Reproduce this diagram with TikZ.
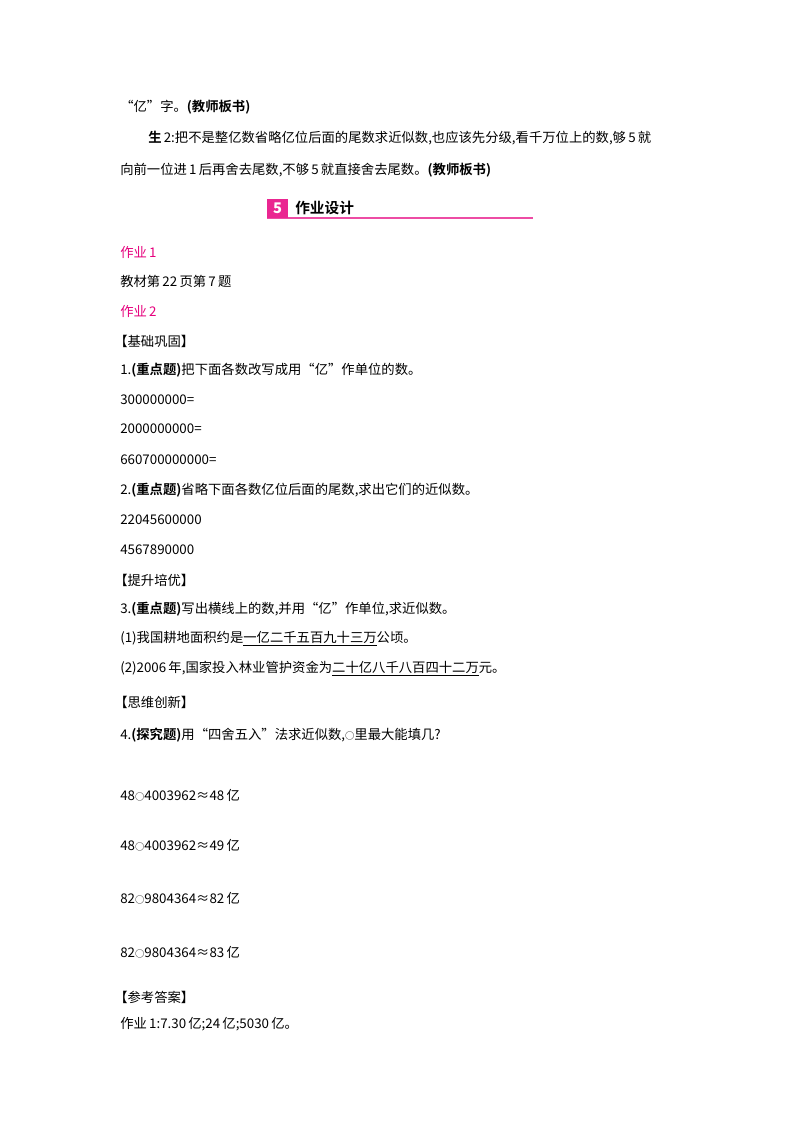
\documentclass[tikz,border=0pt]{standalone}
\usepackage{fontspec}
\setmainfont{Noto Sans CJK SC}
\newfontfamily\bfcjk{Noto Sans CJK SC Bold}
\definecolor{pinkc}{RGB}{230,0,125}
\begin{document}
\begin{tikzpicture}[x=0.75pt,y=-0.75pt,
  t/.style={anchor=west,inner sep=0pt,font=\fontsize{10}{12}\selectfont},
  pk/.style={t,text=pinkc}]
\useasboundingbox (0,0) rectangle (800,1132);
\fill[white] (0,0) rectangle (800,1132);
\newcommand\B[1]{{\bfcjk #1}}
\newcommand\smcirc{{\fontsize{7}{8}\selectfont ○}}
\node[t] (l1) at (120,107) {“亿”字。\B{(教师板书)}};
\node[t] (l2) at (148,138) {\B{生}\,2:把不是整亿数省略亿位后面的尾数求近似数,也应该先分级,看千万位上的数,够\,5\,就};
\node[t] (l3) at (120,170) {向前一位进\,1\,后再舍去尾数,不够\,5\,就直接舍去尾数。\B{(教师板书)}};
\draw[pinkc!70,line width=0.8pt] (267,218) -- (533,218);
\fill[pinkc!85] (267,199) rectangle (288,218);
\node[inner sep=0pt,text=white,font=\bfseries\itshape\fontsize{11}{12}\selectfont] (h5) at (277.5,208.5) {5};
\node[t,font=\bfcjk\fontsize{11}{13}\selectfont] (h) at (295,208) {作业设计};
\node[pk] (a1) at (120,252) {作业\,1};
\node[t] (a2) at (120,281) {教材第\,22\,页第\,7\,题};
\node[pk] (a3) at (120,311) {作业\,2};
\node[t] (a4) at (114,341) {【基础巩固】};
\node[t] (a5) at (120,370) {1.\B{(重点题)}把下面各数改写成用“亿”作单位的数。};
\node[t] (a6) at (120,400) {300000000=};
\node[t] (a7) at (120,429) {2000000000=};
\node[t] (a8) at (120,460) {660700000000=};
\node[t] (a9) at (120,490) {2.\B{(重点题)}省略下面各数亿位后面的尾数,求出它们的近似数。};
\node[t] (a10) at (120,520) {22045600000};
\node[t] (a11) at (120,550) {4567890000};
\node[t] (a12) at (114,580) {【提升培优】};
\node[t] (a13) at (120,609) {3.\B{(重点题)}写出横线上的数,并用“亿”作单位,求近似数。};
\node[t] (a14) at (120,639) {(1)我国耕地面积约是\underline{一亿二千五百九十三万}公顷。};
\node[t] (a15) at (120,669) {(2)2006\,年,国家投入林业管护资金为\underline{二十亿八千八百四十二万}元。};
\node[t] (a16) at (114,702) {【思维创新】};
\node[t] (a17) at (120,735) {4.\B{(探究题)}用“四舍五入”法求近似数,\smcirc 里最大能填几?};
\node[t] (b1) at (120,795) {48\smcirc 4003962≈48\,亿};
\node[t] (b2) at (120,845) {48\smcirc 4003962≈49\,亿};
\node[t] (b3) at (120,898) {82\smcirc 9804364≈82\,亿};
\node[t] (b4) at (120,952) {82\smcirc 9804364≈83\,亿};
\node[t] (c1) at (114,997) {【参考答案】};
\node[t] (c2) at (120,1024) {作业\,1:7.30\,亿;24\,亿;5030\,亿。};
\end{tikzpicture}
\end{document}
